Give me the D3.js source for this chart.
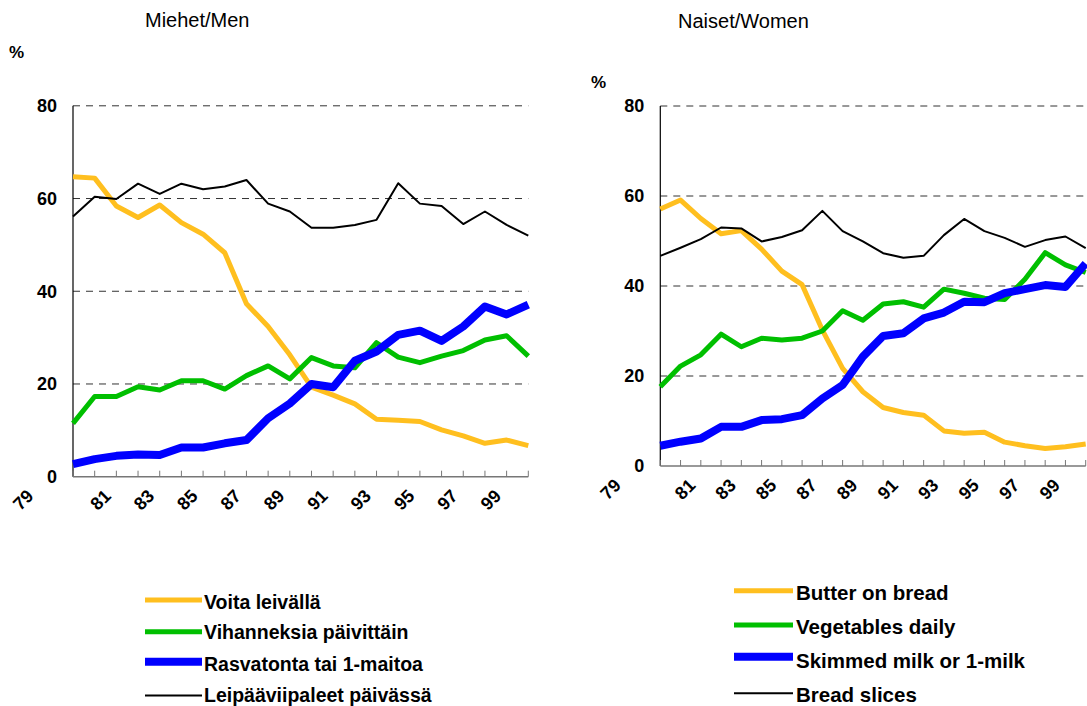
<!DOCTYPE html>
<html>
<head>
<meta charset="utf-8">
<script src="https://cdn.jsdelivr.net/npm/d3@7/dist/d3.min.js"></script>
<style>
  body { margin: 0; background: #fff; }
  svg { display: block; font-family: "Liberation Sans", Arial, sans-serif; }
</style>
</head>
<body>
<div id="chart"></div>
<script>
// Données (%)
const years = [1979, 1980, 1981, 1982, 1983, 1984, 1985, 1986, 1987, 1988, 1989,
               1990, 1991, 1992, 1993, 1994, 1995, 1996, 1997, 1998, 1999, 2000];
const yearLabels = ["79", "81", "83", "85", "87", "89", "91", "93", "95", "97", "99"];
const yTicks = [0, 20, 40, 60, 80];

// Miehet / Men
const butterMen = [64.7, 64.4, 58.4, 55.9, 58.6, 54.8, 52.3, 48.3, 37.3, 32.4, 26.3,
                   19.3, 17.6, 15.7, 12.4, 12.2, 11.9, 10.1, 8.8, 7.2, 7.9, 6.7];
const vegMen    = [11.5, 17.3, 17.3, 19.4, 18.7, 20.7, 20.7, 18.9, 21.8, 23.9, 21.1,
                   25.7, 23.9, 23.5, 28.9, 25.8, 24.6, 26.0, 27.2, 29.5, 30.4, 26.0];
const milkMen   = [2.7, 3.8, 4.5, 4.8, 4.7, 6.3, 6.3, 7.2, 7.9, 12.6, 15.8,
                   20.0, 19.3, 25.0, 27.0, 30.6, 31.5, 29.3, 32.4, 36.7, 35.0, 37.1];
const breadMen  = [56.1, 60.4, 59.9, 63.2, 61.0, 63.2, 62.0, 62.6, 64.0, 58.9, 57.2,
                   53.7, 53.7, 54.3, 55.4, 63.3, 58.9, 58.4, 54.5, 57.2, 54.3, 52.0];

// Naiset / Women
const butterWomen = [57.1, 59.1, 55.0, 51.6, 52.3, 48.2, 43.3, 40.3, 30.2, 21.7, 16.5,
                     13.0, 11.9, 11.3, 7.8, 7.3, 7.5, 5.3, 4.5, 3.9, 4.3, 4.9];
const vegWomen    = [17.6, 22.2, 24.7, 29.3, 26.5, 28.4, 28.0, 28.4, 30.0, 34.5, 32.4,
                     36.0, 36.5, 35.3, 39.3, 38.4, 37.3, 37.0, 41.5, 47.4, 44.7, 43.0];
const milkWomen   = [4.5, 5.4, 6.1, 8.7, 8.7, 10.2, 10.4, 11.3, 15.0, 18.0, 24.3,
                     28.9, 29.5, 32.8, 34.1, 36.5, 36.4, 38.4, 39.3, 40.2, 39.8, 45.0];
const breadWomen  = [46.7, 48.5, 50.4, 53.0, 52.8, 49.9, 50.9, 52.4, 56.7, 52.2, 49.9,
                     47.3, 46.3, 46.7, 51.3, 54.9, 52.2, 50.7, 48.7, 50.2, 51.0, 48.4];

const legendMen   = ["Voita leivällä", "Vihanneksia päivittäin", "Rasvatonta tai 1-maitoa", "Leipääviipaleet päivässä"];
const legendWomen = ["Butter on bread", "Vegetables daily", "Skimmed milk or 1-milk", "Bread slices"];

// Styles des séries
const colors = ["#ffbf1f", "#00bf00", "#0000ff", "#000000"];
const widths = [5, 5, 8, 2];

const svg = d3.select("#chart").append("svg")
    .attr("width", 1087)
    .attr("height", 706);

function drawPanel(p) {
    const x = d3.scalePoint().domain(years).range([p.x0, p.x1]);
    const y = d3.scaleLinear().domain([0, 80]).range([p.yBottom, p.yTop]);
    const g = svg.append("g");

    // titre et %
    g.append("text").attr("x", p.titleX).attr("y", p.titleY)
        .attr("font-size", 20).text(p.title);
    g.append("text").attr("x", p.pctX).attr("y", p.pctY)
        .attr("font-size", 17).attr("font-weight", "bold").text("%");

    // grille pointillée
    g.selectAll(".grid").data(yTicks.filter(d => d > 0)).join("line")
        .attr("x1", p.x0).attr("x2", p.x1)
        .attr("y1", d => y(d)).attr("y2", d => y(d))
        .attr("stroke", "#333").attr("stroke-width", 1)
        .attr("stroke-dasharray", "7,6");

    // axe Y
    g.append("line").attr("x1", p.x0).attr("x2", p.x0)
        .attr("y1", y(0)).attr("y2", y(80))
        .attr("stroke", "#000").attr("stroke-width", 1.2);
    g.selectAll(".ylab").data(yTicks).join("text")
        .attr("x", p.x0 - 16).attr("y", d => y(d)).attr("dy", "0.36em")
        .attr("text-anchor", "end").attr("font-size", 18).attr("font-weight", "bold")
        .text(d => d);

    // axe X
    g.append("line").attr("x1", p.x0).attr("x2", p.x1)
        .attr("y1", y(0)).attr("y2", y(0))
        .attr("stroke", "#777").attr("stroke-width", 1.5);
    g.selectAll(".xtick").data(years).join("line")
        .attr("x1", d => x(d)).attr("x2", d => x(d))
        .attr("y1", y(0)).attr("y2", y(0) - 6)
        .attr("stroke", "#777").attr("stroke-width", 1);
    g.selectAll(".xlab").data(yearLabels).join("text")
        .attr("transform", (d, i) => {
            const cx = x(years[i * 2]) - (i === 0 ? 50 : 16);
            return `translate(${cx},${y(0) + 23}) rotate(-45)`;
        })
        .attr("dy", "0.36em")
        .attr("text-anchor", "middle").attr("font-size", 18).attr("font-weight", "bold")
        .text(d => d);

    // courbes
    const line = d3.line().x((d, i) => x(years[i])).y(d => y(d));
    p.series.forEach((s, k) => {
        g.append("path").datum(s)
            .attr("fill", "none")
            .attr("stroke", colors[k])
            .attr("stroke-width", widths[k])
            .attr("stroke-linejoin", "round")
            .attr("d", line);
    });

    // légende
    p.legend.forEach((name, k) => {
        g.append("line")
            .attr("x1", p.legX0).attr("x2", p.legX1)
            .attr("y1", p.legLineY[k]).attr("y2", p.legLineY[k])
            .attr("stroke", colors[k]).attr("stroke-width", widths[k]);
        g.append("text")
            .attr("x", p.legTextX).attr("y", p.legTextY[k])
            .attr("font-size", p.legFont).attr("font-weight", "bold")
            .text(name);
    });
}

drawPanel({
    title: "Miehet/Men", titleX: 145, titleY: 27, pctX: 9, pctY: 58,
    x0: 73, x1: 528.3, yBottom: 476.7, yTop: 105.8,
    series: [butterMen, vegMen, milkMen, breadMen],
    legend: legendMen, legFont: 19.5,
    legX0: 145, legX1: 202, legTextX: 204,
    legLineY: [600, 631.7, 661.7, 695.5],
    legTextY: [609, 639, 670.5, 701.5]
});

drawPanel({
    title: "Naiset/Women", titleX: 678, titleY: 28, pctX: 591, pctY: 88,
    x0: 660.3, x1: 1085.7, yBottom: 466, yTop: 106,
    series: [butterWomen, vegWomen, milkWomen, breadWomen],
    legend: legendWomen, legFont: 20.5,
    legX0: 734, legX1: 793, legTextX: 796,
    legLineY: [590.7, 625, 656.7, 693.3],
    legTextY: [600, 634, 667.7, 701.5]
});
</script>
</body>
</html>
